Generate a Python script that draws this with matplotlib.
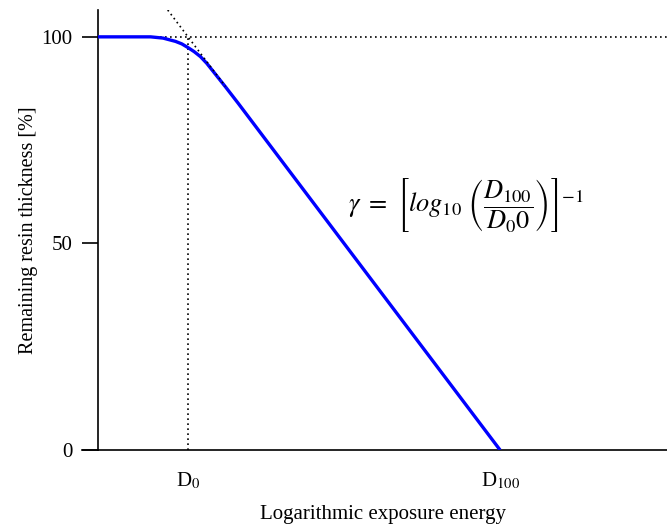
import matplotlib
matplotlib.use("Agg")
import matplotlib.pyplot as plt

plt.rcParams['font.family'] = ['Liberation Serif', 'DejaVu Serif']
plt.rcParams['mathtext.fontset'] = 'stix'

# data (log exposure in arbitrary units, D0 = 1, D100 = 2)
curve_x = [0.7115, 0.88, 0.92, 0.96, 0.98, 1.0, 1.02, 1.04, 1.06, 1.08, 1.10, 1.12, 1.16, 2.0]
curve_y = [100, 100, 99.7, 98.9, 98.3, 97.4, 96.4, 95.2, 93.6, 91.7, 89.8, 87.9, 84.0, 0]
tangent_x = [0.935, 1.12]
tangent_y = [106.5, 88.0]
d0 = 1.0
d100 = 2.0
xtick_labels = [r'D$_0$', r'D$_{100}$']
yticks = [0, 50, 100]

fig = plt.figure(figsize=(6.67, 5.25), dpi=100)
ax = fig.add_axes([98/667, 1-450/525, 1-98/667, 440/525])

ax.plot(curve_x, curve_y, color='#0000ff', lw=2.4, solid_capstyle='butt', zorder=3)
ax.plot(tangent_x, tangent_y, color='black', lw=1.2, ls=(0, (1, 2)), zorder=4)
ax.plot([0.878, 2.535], [100, 100], color='black', lw=1.2, ls=(0, (1, 2)), zorder=2)
ax.plot([d0, d0], [0, 100], color='black', lw=1.2, ls=(0, (1, 2)), zorder=2)

ax.set_xlim(0.7115, 2.535)
ax.set_ylim(0, 106.5)
ax.spines['top'].set_visible(False)
ax.spines['right'].set_visible(False)
ax.spines['left'].set_linewidth(1.2)
ax.spines['bottom'].set_linewidth(1.2)

ax.set_yticks(yticks)
ax.set_yticklabels([str(v) for v in yticks], fontsize=15)
ax.tick_params(axis='y', direction='out', length=11.5, width=1.2, pad=7)
ax.set_xticks([d0, d100])
ax.set_xticklabels(xtick_labels, fontsize=15)
ax.tick_params(axis='x', length=0, pad=15)

ax.set_xlabel('Logarithmic exposure energy', fontsize=15, labelpad=10)
ax.set_ylabel('Remaining resin thickness [%]', fontsize=14.5, labelpad=2)

ax.text(1.891, 59.3,
        r'$\gamma\ =\ \left[log_{10}\ \left(\dfrac{D_{100}}{D_0 0}\right)\right]^{-1}$',
        fontsize=19, ha='center', va='center')

# extend bottom spine to the left like the reference tick
ax.plot([0.7115 - 16/312, 0.7115], [0, 0], color='black', lw=1.2, clip_on=False)

fig.savefig('out.png', dpi=100)
